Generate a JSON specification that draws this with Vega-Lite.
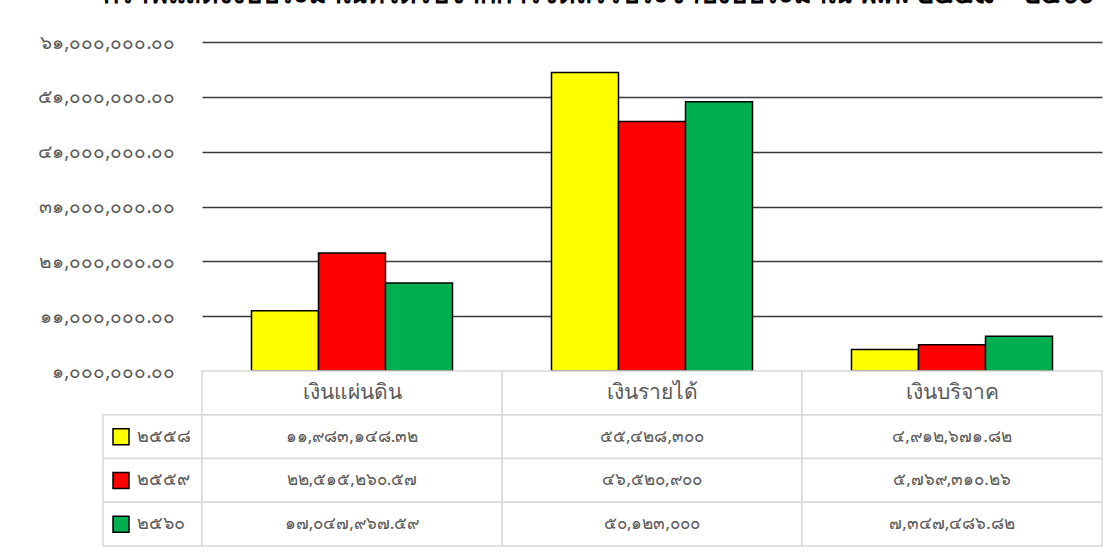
{
  "$schema": "https://vega.github.io/schema/vega-lite/v6.json",
  "padding": {"left": 37, "top": -19, "right": 0, "bottom": 0},
  "background": "#ffffff",
  "title": {
    "text": "กราฟแสดงงบประมาณที่ได้รับจากการจัดสรรประจำปีงบประมาณ พ.ศ. ๒๕๕๘ – ๒๕๖๐",
    "fontSize": 27,
    "fontWeight": "bold",
    "color": "#000000",
    "anchor": "middle",
    "dx": 28,
    "offset": 24
  },
  "datasets": {
    "budget": [
      {"source": "เงินแผ่นดิน", "year": "๒๕๕๘", "amount": 11983148.32, "label": "๑๑,๙๘๓,๑๔๘.๓๒"},
      {"source": "เงินแผ่นดิน", "year": "๒๕๕๙", "amount": 22515260.57, "label": "๒๒,๕๑๕,๒๖๐.๕๗"},
      {"source": "เงินแผ่นดิน", "year": "๒๕๖๐", "amount": 17047967.59, "label": "๑๗,๐๔๗,๙๖๗.๕๙"},
      {"source": "เงินรายได้", "year": "๒๕๕๘", "amount": 55428300, "label": "๕๕,๔๒๘,๓๐๐"},
      {"source": "เงินรายได้", "year": "๒๕๕๙", "amount": 46520900, "label": "๔๖,๕๒๐,๙๐๐"},
      {"source": "เงินรายได้", "year": "๒๕๖๐", "amount": 50123000, "label": "๕๐,๑๒๓,๐๐๐"},
      {"source": "เงินบริจาค", "year": "๒๕๕๘", "amount": 4912671.82, "label": "๔,๙๑๒,๖๗๑.๘๒"},
      {"source": "เงินบริจาค", "year": "๒๕๕๙", "amount": 5769310.26, "label": "๕,๗๖๙,๓๑๐.๒๖"},
      {"source": "เงินบริจาค", "year": "๒๕๖๐", "amount": 7347486.82, "label": "๗,๓๔๗,๔๘๖.๘๒"}
    ]
  },
  "columns": 2,
  "spacing": 0,
  "bounds": "flush",
  "concat": [
    {
      "width": 99,
      "height": 329,
      "data": {"values": []},
      "mark": "point",
      "encoding": {}
    },
    {
      "width": 900,
      "height": 329,
      "data": {"name": "budget"},
      "mark": {"type": "bar", "stroke": "#000000", "strokeWidth": 1.5},
      "encoding": {
        "x": {"field": "source", "type": "nominal", "sort": null, "scale": {"paddingInner": 0.33, "paddingOuter": 0.165}, "axis": null},
        "xOffset": {"field": "year", "type": "nominal", "sort": null, "scale": {"paddingInner": 0, "paddingOuter": 0}},
        "y": {
          "field": "amount",
          "type": "quantitative",
          "scale": {"domain": [1000000, 61000000], "zero": false, "nice": false},
          "axis": {
            "values": [1000000, 11000000, 21000000, 31000000, 41000000, 51000000, 61000000],
            "title": null,
            "domain": false,
            "ticks": false,
            "grid": true,
            "gridColor": {"condition": {"test": "datum.value === 1000000", "value": "transparent"}, "value": "#3a3a3a"},
            "gridWidth": 1.5,
            "labelPadding": 27,
            "labelFontSize": 19,
            "labelColor": "#595959",
            "labelExpr": "replace(replace(replace(replace(replace(replace(replace(replace(replace(replace(format(datum.value, ',.2f'), /0/g, '๐'), /1/g, '๑'), /2/g, '๒'), /3/g, '๓'), /4/g, '๔'), /5/g, '๕'), /6/g, '๖'), /7/g, '๗'), /8/g, '๘'), /9/g, '๙')"
          }
        },
        "y2": {"datum": 1000000},
        "color": {
          "field": "year",
          "type": "nominal",
          "sort": null,
          "scale": {"domain": ["๒๕๕๘", "๒๕๕๙", "๒๕๖๐"], "range": ["#ffff00", "#ff0000", "#00b050"]},
          "legend": null
        }
      }
    },
    {
      "width": 99,
      "height": 175,
      "data": {"name": "budget"},
      "transform": [{"filter": "datum.source === 'เงินแผ่นดิน'"}],
      "encoding": {
        "y": {"field": "year", "type": "nominal", "sort": null, "scale": {"domain": ["แหล่งเงิน", "๒๕๕๘", "๒๕๕๙", "๒๕๖๐"], "paddingInner": 0, "paddingOuter": 0}, "axis": null}
      },
      "layer": [
        {"mark": {"type": "rect", "fill": "#ffffff", "stroke": "#d9d9d9", "strokeWidth": 1.5}},
        {
          "mark": {"type": "point", "shape": "square", "filled": true, "size": 256, "stroke": "#000000", "strokeWidth": 1.5, "opacity": 1},
          "encoding": {
            "x": {"datum": "swatch", "type": "nominal", "scale": {"type": "point", "domain": ["swatch", "label"], "range": [18, 34], "padding": 0}, "axis": null},
            "color": {"field": "year", "type": "nominal", "sort": null, "scale": {"domain": ["๒๕๕๘", "๒๕๕๙", "๒๕๖๐"], "range": ["#ffff00", "#ff0000", "#00b050"]}, "legend": null}
          }
        },
        {
          "mark": {"type": "text", "align": "left", "baseline": "middle", "fontSize": 18, "color": "#595959"},
          "encoding": {
            "x": {"datum": "label", "type": "nominal"},
            "text": {"field": "year"}
          }
        }
      ]
    },
    {
      "width": 900,
      "height": 175,
      "data": {"name": "budget"},
      "encoding": {
        "x": {"field": "source", "type": "nominal", "sort": null, "scale": {"paddingInner": 0, "paddingOuter": 0}, "axis": null}
      },
      "layer": [
        {
          "mark": {"type": "rect", "fill": "#ffffff", "stroke": "#d9d9d9", "strokeWidth": 1.5},
          "encoding": {"y": {"field": "year", "type": "nominal", "sort": null, "scale": {"domain": ["แหล่งเงิน", "๒๕๕๘", "๒๕๕๙", "๒๕๖๐"], "paddingInner": 0, "paddingOuter": 0}, "axis": null}}
        },
        {
          "transform": [{"filter": "datum.year === '๒๕๕๘'"}],
          "mark": {"type": "rect", "fill": "#ffffff", "stroke": "#d9d9d9", "strokeWidth": 1.5},
          "encoding": {"y": {"datum": "แหล่งเงิน", "type": "nominal"}}
        },
        {
          "mark": {"type": "text", "baseline": "middle", "fontSize": 17, "color": "#595959"},
          "encoding": {"y": {"field": "year", "type": "nominal"}, "text": {"field": "label"}}
        },
        {
          "transform": [{"filter": "datum.year === '๒๕๕๘'"}],
          "mark": {"type": "text", "baseline": "middle", "fontSize": 21, "color": "#595959"},
          "encoding": {"y": {"datum": "แหล่งเงิน", "type": "nominal"}, "text": {"field": "source"}}
        }
      ]
    }
  ],
  "config": {
    "view": {"stroke": null},
    "font": "Noto Sans, DejaVu Sans, sans-serif"
  }
}
